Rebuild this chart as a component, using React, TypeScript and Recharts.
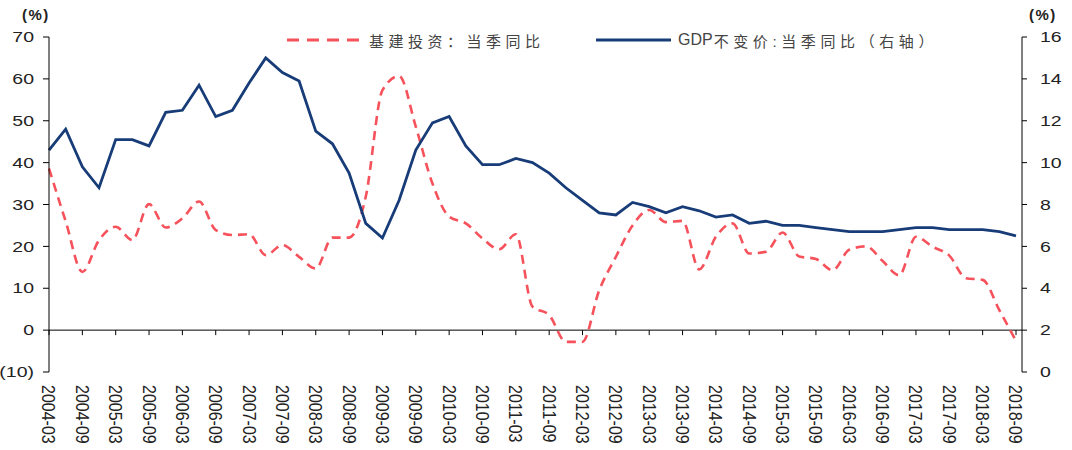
import { LineChart, Line, XAxis, YAxis, ReferenceLine, Legend } from 'recharts'

const quarters = [
  '2004-03', '2004-06', '2004-09', '2004-12', '2005-03', '2005-06', '2005-09', '2005-12',
  '2006-03', '2006-06', '2006-09', '2006-12', '2007-03', '2007-06', '2007-09', '2007-12',
  '2008-03', '2008-06', '2008-09', '2008-12', '2009-03', '2009-06', '2009-09', '2009-12',
  '2010-03', '2010-06', '2010-09', '2010-12', '2011-03', '2011-06', '2011-09', '2011-12',
  '2012-03', '2012-06', '2012-09', '2012-12', '2013-03', '2013-06', '2013-09', '2013-12',
  '2014-03', '2014-06', '2014-09', '2014-12', '2015-03', '2015-06', '2015-09', '2015-12',
  '2016-03', '2016-06', '2016-09', '2016-12', '2017-03', '2017-06', '2017-09', '2017-12',
  '2018-03', '2018-06', '2018-09',
]

// 基建投资：当季同比 (left axis, %)
const infra = [
  38.6, 26.0, 13.9, 21.5, 24.7, 21.5, 30.1, 24.5,
  26.7, 30.7, 23.9, 22.7, 22.9, 17.9, 20.3, 17.5,
  14.7, 22.1, 22.1, 31.9, 57.3, 60.7, 48.6, 35.0,
  27.1, 25.5, 21.9, 19.3, 22.9, 5.6, 3.6, -2.8,
  -2.8, 9.5, 17.5, 25.0, 28.7, 25.8, 26.1, 14.5,
  22.3, 25.5, 18.3, 18.7, 23.3, 17.6, 17.0, 14.3,
  19.2, 20.0, 16.5, 13.1, 22.3, 19.9, 17.8, 12.4,
  12.0, 4.8, -2.6,
]

// GDP不变价:当季同比 (right axis, %)
const gdp = [
  10.6, 11.6, 9.8, 8.8, 11.1, 11.1, 10.8, 12.4,
  12.5, 13.7, 12.2, 12.5, 13.8, 15.0, 14.3, 13.9,
  11.5, 10.9, 9.5, 7.1, 6.4, 8.2, 10.6, 11.9,
  12.2, 10.8, 9.9, 9.9, 10.2, 10.0, 9.5, 8.8,
  8.2, 7.6, 7.5, 8.1, 7.9, 7.6, 7.9, 7.7,
  7.4, 7.5, 7.1, 7.2, 7.0, 7.0, 6.9, 6.8,
  6.7, 6.7, 6.7, 6.8, 6.9, 6.9, 6.8, 6.8,
  6.8, 6.7, 6.5,
]

const leftTicks = [-10, 0, 10, 20, 30, 40, 50, 60, 70]
const rightTicks = [0, 2, 4, 6, 8, 10, 12, 14, 16]

const data = quarters.map((q, i) => ({ q, infra: infra[i], gdp: gdp[i] }))

const W = 1072
const H = 450
const TOP = 37
const X_AXIS_H = 78
const LEFT_MIN = -10
const LEFT_MAX = 70
// distance from bottom of plot to the zero line, where the x ticks sit
const ZERO_OFFSET = ((H - TOP - X_AXIS_H) * (0 - LEFT_MIN)) / (LEFT_MAX - LEFT_MIN)

const RED = '#F6525C'
const BLUE = '#173C78'
const TEXT = '#222'
const FONT = '"Liberation Sans", Arial, "Noto Sans CJK SC", sans-serif'

const fmtLeft = (v: number) => (v < 0 ? `(${-v})` : `${v}`)

function YTick(props: any) {
  const { x, y, payload, textAnchor, fmt } = props
  return (
    <text
      transform={`translate(${x},${y}) scale(1.3,1)`}
      textAnchor={textAnchor}
      dominantBaseline="central"
      fontSize={15}
      fontFamily={FONT}
      fill={TEXT}
    >
      {fmt ? fmt(payload.value) : payload.value}
    </text>
  )
}

function XTick(props: any) {
  const { x, y, payload } = props
  const zy = y - ZERO_OFFSET
  return (
    <g>
      <line x1={x} x2={x} y1={zy} y2={zy + 5} stroke="#000" strokeWidth={1} />
      <text
        transform={`translate(${x},${y + 13}) rotate(90) scale(1,1.2)`}
        textAnchor="start"
        dominantBaseline="central"
        fontSize={16}
        fontFamily={FONT}
        fill={TEXT}
      >
        {payload.value}
      </text>
    </g>
  )
}

function TopLegend() {
  const label = { fontSize: 15, color: '#444', letterSpacing: 4.5, whiteSpace: 'nowrap' as const }
  return (
    <div style={{ position: 'relative', width: W, height: 52, fontFamily: FONT }}>
      <span style={{ position: 'absolute', left: 22, top: 6, fontSize: 15, fontWeight: 'bold', color: TEXT, letterSpacing: 1.5 }}>(%)</span>
      <span style={{ position: 'absolute', left: 1029, top: 6, fontSize: 15, fontWeight: 'bold', color: TEXT, letterSpacing: 1.5 }}>(%)</span>
      <div style={{ position: 'absolute', left: 287, top: 30, height: 20, display: 'flex', alignItems: 'center' }}>
        <svg width={72} height={6}>
          <line x1={0} y1={3} x2={72} y2={3} stroke={RED} strokeWidth={3} strokeDasharray="12 8" />
        </svg>
        <span style={{ ...label, marginLeft: 10 }}>基建投资：当季同比</span>
      </div>
      <div style={{ position: 'absolute', left: 596, top: 30, height: 20, display: 'flex', alignItems: 'center' }}>
        <svg width={75} height={6}>
          <line x1={0} y1={3} x2={75} y2={3} stroke={BLUE} strokeWidth={3} />
        </svg>
        <span style={{ ...label, marginLeft: 7, letterSpacing: 0, fontSize: 16 }}>GDP</span>
        <span style={{ ...label, marginLeft: 1, letterSpacing: 4.6 }}>不变价:当季同比（右轴）</span>
      </div>
    </div>
  )
}

export default function App() {
  return (
    <div style={{ position: 'absolute', left: 0, top: 0, width: W, height: H, background: '#fff' }}>
      <LineChart width={W} height={H} data={data} margin={{ top: TOP, right: 0, bottom: 0, left: 0 }}>
        <XAxis
          dataKey="q"
          interval={1}
          height={X_AXIS_H}
          axisLine={false}
          tickLine={false}
          tickSize={0}
          tickMargin={0}
          padding={{ left: 0, right: 6 }}
          tick={<XTick />}
        />
        <YAxis
          yAxisId="left"
          domain={[LEFT_MIN, LEFT_MAX]}
          ticks={leftTicks}
          width={49}
          tickSize={6}
          tickMargin={9}
          axisLine={{ stroke: '#000' }}
          tickLine={{ stroke: '#000' }}
          tick={(p: any) => <YTick {...p} fmt={fmtLeft} />}
        />
        <YAxis
          yAxisId="right"
          orientation="right"
          domain={[0, 16]}
          ticks={rightTicks}
          width={50}
          tickSize={5}
          tickMargin={13}
          axisLine={{ stroke: '#000' }}
          tickLine={{ stroke: '#000' }}
          tick={(p: any) => <YTick {...p} />}
        />
        <ReferenceLine yAxisId="left" y={0} stroke="#000" strokeWidth={1} />
        <Legend
          verticalAlign="middle"
          align="center"
          wrapperStyle={{ top: 0, left: 0, width: W }}
          content={() => <TopLegend />}
        />
        <Line
          yAxisId="left"
          dataKey="infra"
          type="monotone"
          stroke={RED}
          strokeWidth={2.6}
          strokeDasharray="9 6"
          dot={false}
          isAnimationActive={false}
        />
        <Line
          yAxisId="right"
          dataKey="gdp"
          type="linear"
          stroke={BLUE}
          strokeWidth={2.8}
          dot={false}
          isAnimationActive={false}
        />
      </LineChart>
    </div>
  )
}
